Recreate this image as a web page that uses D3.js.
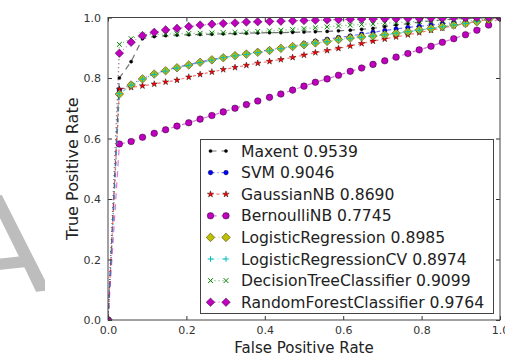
<!DOCTYPE html>
<html>
<head>
<meta charset="utf-8">
<script src="https://cdn.jsdelivr.net/npm/d3@7"></script>
<style>
  body { margin: 0; background: #fff; }
  svg { display: block; font-family: "DejaVu Sans", sans-serif; }
</style>
</head>
<body>
<script>
// false positive rate, shared by all curves
var fpr = [0, 0.029, 0.059, 0.088, 0.118, 0.147, 0.176, 0.206, 0.235, 0.265, 0.294, 0.324,
  0.353, 0.382, 0.412, 0.441, 0.471, 0.5, 0.529, 0.559, 0.588, 0.618, 0.647, 0.676,
  0.706, 0.735, 0.765, 0.794, 0.824, 0.853, 0.882, 0.912, 0.941, 0.971, 1.0];

var tprMaxent = [0, 0.80, 0.854, 0.930, 0.937, 0.940, 0.942, 0.943, 0.944, 0.945, 0.946, 0.947,
  0.948, 0.949, 0.950, 0.950, 0.951, 0.952, 0.953, 0.954, 0.956, 0.958, 0.961, 0.964,
  0.970, 0.975, 0.980, 0.985, 0.989, 0.992, 0.995, 0.997, 0.998, 0.999, 1.0];
var tprSVM = [0, 0.760, 0.779, 0.798, 0.814, 0.825, 0.835, 0.844, 0.853, 0.861, 0.868, 0.875,
  0.881, 0.887, 0.893, 0.899, 0.905, 0.914, 0.922, 0.928, 0.934, 0.939, 0.945, 0.951,
  0.957, 0.962, 0.967, 0.971, 0.975, 0.979, 0.983, 0.987, 0.991, 0.995, 1.0];
var tprGaussian = [0, 0.763, 0.769, 0.774, 0.780, 0.787, 0.793, 0.803, 0.812, 0.820, 0.828, 0.835,
  0.842, 0.849, 0.855, 0.861, 0.868, 0.876, 0.884, 0.891, 0.898, 0.906, 0.914, 0.922,
  0.929, 0.936, 0.943, 0.950, 0.958, 0.965, 0.973, 0.980, 0.987, 0.994, 1.0];
var tprBernoulli = [0, 0.582, 0.590, 0.604, 0.617, 0.629, 0.641, 0.652, 0.664, 0.676, 0.688, 0.700,
  0.712, 0.724, 0.736, 0.747, 0.760, 0.773, 0.786, 0.797, 0.809, 0.822, 0.833, 0.845,
  0.857, 0.869, 0.881, 0.893, 0.905, 0.918, 0.930, 0.943, 0.958, 0.975, 1.0];
var tprLogistic = [0, 0.747, 0.777, 0.797, 0.813, 0.824, 0.834, 0.843, 0.852, 0.860, 0.867, 0.874,
  0.879, 0.885, 0.891, 0.898, 0.904, 0.910, 0.916, 0.921, 0.927, 0.932, 0.936, 0.939,
  0.943, 0.948, 0.953, 0.959, 0.964, 0.970, 0.975, 0.980, 0.986, 0.993, 1.0];
var tprLogisticCV = [0, 0.748, 0.776, 0.796, 0.812, 0.823, 0.833, 0.842, 0.851, 0.859, 0.867, 0.873,
  0.878, 0.884, 0.890, 0.897, 0.903, 0.909, 0.915, 0.920, 0.926, 0.931, 0.935, 0.939,
  0.943, 0.948, 0.953, 0.958, 0.964, 0.969, 0.975, 0.980, 0.986, 0.993, 1.0];
var tprTree = [0, 0.911, 0.930, 0.942, 0.944, 0.945, 0.946, 0.947, 0.948, 0.949, 0.950, 0.951,
  0.952, 0.954, 0.956, 0.958, 0.960, 0.963, 0.966, 0.969, 0.972, 0.975, 0.977, 0.979,
  0.981, 0.983, 0.985, 0.987, 0.989, 0.991, 0.993, 0.995, 0.997, 0.998, 1.0];
var tprForest = [0, 0.882, 0.918, 0.940, 0.951, 0.959, 0.964, 0.970, 0.975, 0.978, 0.980, 0.982,
  0.985, 0.986, 0.987, 0.988, 0.989, 0.990, 0.991, 0.992, 0.993, 0.994, 0.995, 0.995,
  0.996, 0.996, 0.997, 0.997, 0.998, 0.998, 0.999, 0.999, 1.0, 1.0, 1.0];

var names = ["Maxent 0.9539", "SVM 0.9046", "GaussianNB 0.8690", "BernoulliNB 0.7745",
  "LogisticRegression 0.8985", "LogisticRegressionCV 0.8974",
  "DecisionTreeClassifier 0.9099", "RandomForestClassifier 0.9764"];
var tprs = [tprMaxent, tprSVM, tprGaussian, tprBernoulli, tprLogistic, tprLogisticCV, tprTree, tprForest];
var ticks = [0, 0.2, 0.4, 0.6, 0.8, 1.0];

// style per curve: colour, dash, marker, marker size
var styles = [
  { color: "#000000", dash: "6,5", marker: "dot", size: 1.6 },
  { color: "#0000ff", dash: "4,3,1,3", marker: "circle", size: 2.3 },
  { color: "#ff0000", dash: "3,3", marker: "star", size: 2.4 },
  { color: "#bf00bf", dash: "6,5", marker: "circle", size: 3.3 },
  { color: "#bfbf00", dash: "1,3", marker: "diamond", size: 4.3 },
  { color: "#00bfbf", dash: "4,3,1,3", marker: "plus", size: 2.8 },
  { color: "#008000", dash: "1,3", marker: "x", size: 2.4 },
  { color: "#bf00bf", dash: "1,3", marker: "diamond", size: 4.3 }
];

var W = 505, H = 356;
var x = d3.scaleLinear().domain([0, 1]).range([108, 500]);
var y = d3.scaleLinear().domain([0, 1]).range([320, 17.5]);

var svg = d3.select("body").append("svg").attr("width", W).attr("height", H);

// faint watermark letter at the left edge
svg.append("clipPath").attr("id", "wm").append("rect")
  .attr("x", 0).attr("y", 0).attr("width", 45).attr("height", H);
svg.append("g").attr("clip-path", "url(#wm)")
  .append("text")
  .attr("transform", "translate(-42,300) rotate(-6)")
  .attr("font-size", 137)
  .attr("fill", "#bdbdbd")
  .text("A");

svg.append("clipPath").attr("id", "plotclip").append("rect")
  .attr("x", x(0)).attr("y", y(1)).attr("width", x(1) - x(0)).attr("height", y(0) - y(1));

function drawMarker(g, type, s, color) {
  if (type === "dot" || type === "circle") {
    g.append("circle").attr("r", s).attr("fill", color)
      .attr("stroke", "#000").attr("stroke-width", 0.4);
  } else if (type === "diamond") {
    g.append("path")
      .attr("d", "M0," + (-s) + "L" + s + ",0L0," + s + "L" + (-s) + ",0Z")
      .attr("fill", color).attr("stroke", "#000").attr("stroke-width", 0.4);
  } else if (type === "star") {
    g.append("path").attr("d", d3.symbol(d3.symbolStar, s * s * 2.2)())
      .attr("fill", color).attr("stroke", "#000").attr("stroke-width", 0.4);
  } else if (type === "plus") {
    g.append("path").attr("d", "M" + (-s) + ",0H" + s + "M0," + (-s) + "V" + s)
      .attr("stroke", color).attr("stroke-width", 1);
  } else if (type === "x") {
    g.append("path").attr("d", "M" + (-s) + "," + (-s) + "L" + s + "," + s + "M" + (-s) + "," + s + "L" + s + "," + (-s))
      .attr("stroke", color).attr("stroke-width", 1);
  }
}

var plot = svg.append("g").attr("clip-path", "url(#plotclip)");
var line = d3.line().x(function(d) { return x(d[0]); }).y(function(d) { return y(d[1]); });

tprs.forEach(function(tpr, k) {
  var st = styles[k];
  var pts = fpr.map(function(f, i) { return [f, tpr[i]]; });
  plot.append("path")
    .attr("d", line(pts))
    .attr("fill", "none")
    .attr("stroke", st.color)
    .attr("stroke-opacity", 0.55)
    .attr("stroke-width", 1.2)
    .attr("stroke-dasharray", st.dash);
  pts.forEach(function(p) {
    var g = plot.append("g").attr("transform", "translate(" + x(p[0]) + "," + y(p[1]) + ")");
    drawMarker(g, st.marker, st.size, st.color);
  });
});

// axes: ticks point inward on all four sides
var fmt = d3.format(".1f");
function styleAxis(g) {
  g.select(".domain").remove();
  g.selectAll("line").attr("stroke", "#333");
  g.selectAll("text").attr("fill", "#333").attr("font-size", 11).attr("font-family", "DejaVu Sans, sans-serif");
}
svg.append("g").attr("transform", "translate(0," + y(0) + ")")
  .call(d3.axisBottom(x).tickValues(ticks).tickFormat(fmt).tickSizeInner(-4).tickSizeOuter(0).tickPadding(6))
  .call(styleAxis);
svg.append("g").attr("transform", "translate(0," + y(1) + ")")
  .call(d3.axisTop(x).tickValues(ticks).tickFormat("").tickSizeInner(-4).tickSizeOuter(0))
  .call(styleAxis);
svg.append("g").attr("transform", "translate(" + x(0) + ",0)")
  .call(d3.axisLeft(y).tickValues(ticks).tickFormat(fmt).tickSizeInner(-4).tickSizeOuter(0).tickPadding(7))
  .call(styleAxis);
svg.append("g").attr("transform", "translate(" + x(1) + ",0)")
  .call(d3.axisRight(y).tickValues(ticks).tickFormat("").tickSizeInner(-4).tickSizeOuter(0))
  .call(styleAxis);

svg.append("rect")
  .attr("x", x(0)).attr("y", y(1))
  .attr("width", x(1) - x(0)).attr("height", y(0) - y(1))
  .attr("fill", "none").attr("stroke", "#444").attr("stroke-width", 1);

// axis titles
svg.append("text")
  .attr("x", (x(0) + x(1)) / 2).attr("y", 353)
  .attr("text-anchor", "middle").attr("font-size", 15).attr("fill", "#222")
  .text("False Positive Rate");
svg.append("text")
  .attr("transform", "translate(78," + ((y(0) + y(1)) / 2) + ") rotate(-90)")
  .attr("text-anchor", "middle").attr("font-size", 16).attr("fill", "#222")
  .text("True Positive Rate");

// legend
var leg = svg.append("g");
leg.append("rect")
  .attr("x", 200.5).attr("y", 139.5).attr("width", 293).attr("height", 174)
  .attr("fill", "#fff").attr("stroke", "#444").attr("stroke-width", 1);
names.forEach(function(name, k) {
  var st = styles[k];
  var cy = 151 + k * 21.6;
  leg.append("line")
    .attr("x1", 210.5).attr("x2", 226).attr("y1", cy).attr("y2", cy)
    .attr("stroke", st.color).attr("stroke-opacity", 0.55).attr("stroke-width", 1.2)
    .attr("stroke-dasharray", st.dash);
  [210.5, 226].forEach(function(mx) {
    drawMarker(leg.append("g").attr("transform", "translate(" + mx + "," + cy + ")"), st.marker, st.size, st.color);
  });
  leg.append("text")
    .attr("x", 241).attr("y", cy + 5.6)
    .attr("font-size", 15.6).attr("fill", "#222")
    .text(name);
});
</script>
</body>
</html>
